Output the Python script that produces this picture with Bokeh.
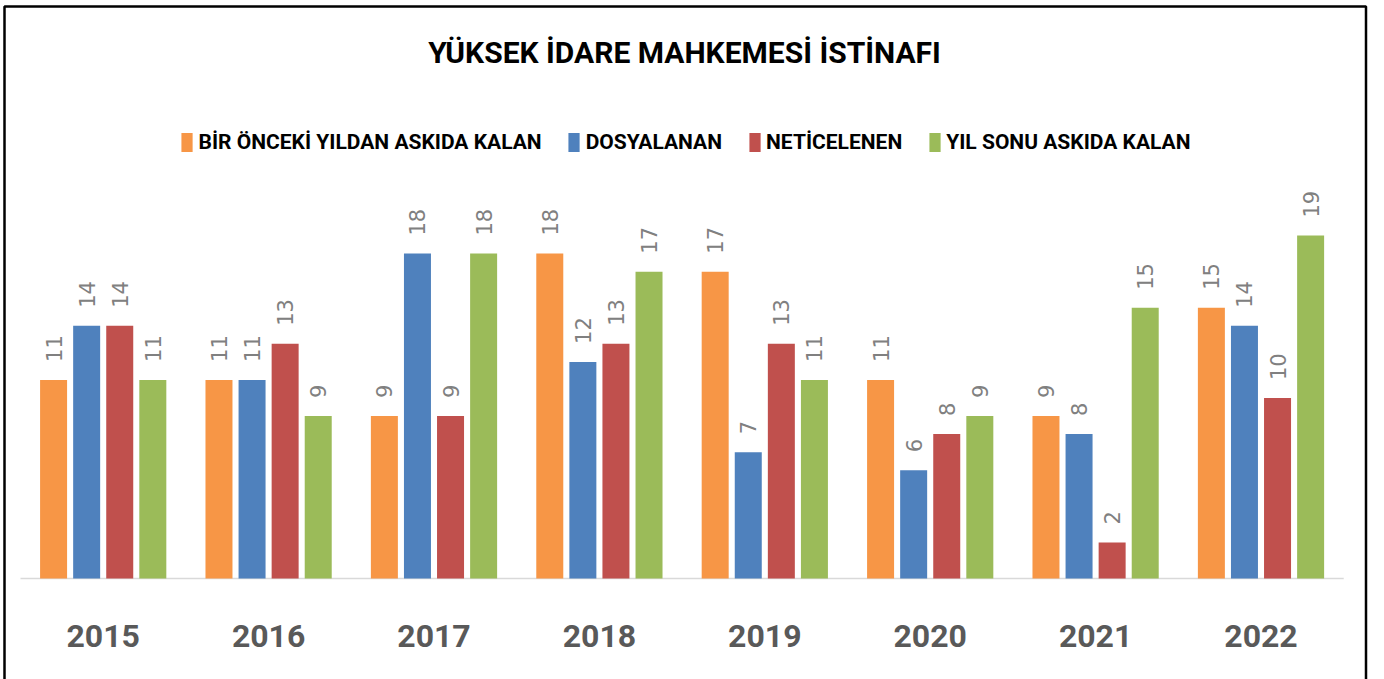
import math
from bokeh.plotting import figure
from bokeh.models import ColumnDataSource, Range1d, Legend, LegendItem, BoxAnnotation
from bokeh.transform import dodge
from bokeh.core.properties import value
from bokeh.embed import file_html
from bokeh.resources import INLINE

# ---------------- data ----------------
years = ["2015", "2016", "2017", "2018", "2019", "2020", "2021", "2022"]
series_names = ["BİR ÖNCEKİ YILDAN ASKIDA KALAN", "DOSYALANAN", "NETİCELENEN", "YIL SONU ASKIDA KALAN"]
onceki = [11, 11, 9, 18, 17, 11, 9, 15]
dosyalanan = [14, 11, 18, 12, 7, 6, 8, 14]
neticelenen = [14, 13, 9, 13, 13, 8, 2, 10]
yil_sonu = [11, 9, 18, 17, 11, 9, 15, 19]
colors = ["#F79646", "#4F81BD", "#C0504D", "#9BBB59"]
title_text = "YÜKSEK İDARE MAHKEMESİ İSTİNAFI"

# ---------------- geometry (pixel layout) ----------------
W, H = 1370, 679
px_per_group = 165.4
px_per_unit = 18.05
group0_px = 20     # left edge of first group
base_px = 578      # baseline


def px_x(px):
    return (px - group0_px) / px_per_group - 0.5


def px_y(py):
    return (base_px - py) / px_per_unit


FONT = "Roboto"

p = figure(width=W, height=H, output_backend="svg", toolbar_location=None,
           x_range=Range1d(px_x(0), px_x(W)), y_range=Range1d(px_y(H), px_y(0)),
           x_axis_location=None, y_axis_location=None, min_border=0,
           background_fill_color="white", border_fill_color="white")
p.grid.visible = False
p.outline_line_color = None

# chart border
p.add_layout(BoxAnnotation(left=px_x(4), right=px_x(1365.5), top=px_y(6), bottom=px_y(720),
                           fill_alpha=0, line_color="#000000", line_alpha=1.0, line_width=2.5))

idx = list(range(len(years)))
series = [onceki, dosyalanan, neticelenen, yil_sonu]
offsets = [-0.3, -0.1, 0.1, 0.3]
bar_w = 27 / px_per_group

# baseline
p.segment(x0=[-0.5], x1=[len(years) - 0.5], y0=[0], y1=[0], line_color="#d9d9d9", line_width=1.5)

items = []
for name, vals, col, off in zip(series_names, series, colors, offsets):
    src = ColumnDataSource(dict(x=idx, v=vals, lab=[str(v) for v in vals]))
    r = p.vbar(x=dodge("x", off), top="v", bottom=0, width=bar_w, source=src,
               fill_color=col, line_color=None)
    p.text(x=dodge("x", off), y="v", text="lab", source=src, angle=math.pi / 2,
           text_align="left", text_baseline="middle", y_offset=-18,
           text_font=value("DejaVu Sans"), text_font_size="21px", text_color="#808080")
    items.append(LegendItem(label=name, renderers=[r]))

# year labels
ysrc = ColumnDataSource(dict(x=idx, t=years))
p.text(x="x", y=px_y(635), text="t", source=ysrc,
       text_align="center", text_baseline="middle",
       text_font=value(FONT), text_font_style="bold", text_font_size="32px",
       text_color="#595959")

# title
p.text(x=[px_x(684)], y=[px_y(52)], text=[title_text],
       text_align="center", text_baseline="middle",
       text_font=value(FONT), text_font_style="bold", text_font_size="30px",
       text_color="#000000")

legend = Legend(items=items, orientation="horizontal", location="top_center",
                margin=130, padding=0, spacing=25, label_standoff=5,
                glyph_width=14, glyph_height=24, label_height=24,
                label_text_font=FONT, label_text_font_style="bold",
                label_text_font_size="21px", label_text_color="#000000",
                border_line_color=None, background_fill_alpha=0)
p.add_layout(legend)

open("out.html", "w").write(file_html(p, INLINE))
